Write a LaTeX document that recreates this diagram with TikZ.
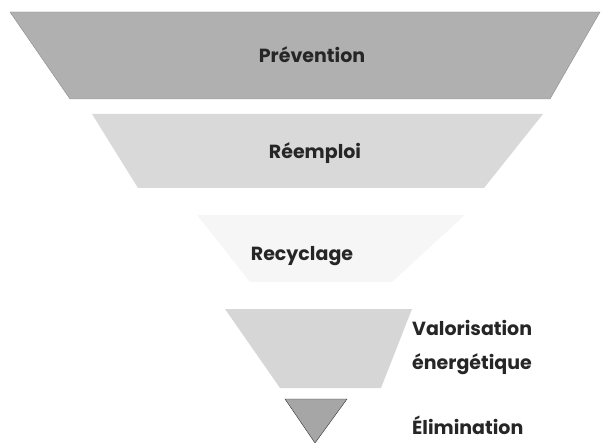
\documentclass[tikz,border=0pt]{standalone}
\usepackage{fontspec}
\setmainfont{Poppins}
\begin{document}
\begin{tikzpicture}[x=1pt,y=-1pt,
    band/.style={fill=#1, draw=black!45, line width=0.4pt},
    level/.style={font=\bfseries\fontsize{19}{34}\selectfont, text=black!85, inner sep=1pt},
    side/.style={level, anchor=west, align=left}]
    \useasboundingbox (0,0) rectangle (601,443);
    % corners of the bands
    \coordinate (P1) at (10,12);   \coordinate (P2) at (600,12);
    \coordinate (P3) at (550,99);  \coordinate (P4) at (70,99);
    \coordinate (R1) at (92,114);  \coordinate (R2) at (543,114);
    \coordinate (R3) at (484,188); \coordinate (R4) at (138,188);
    \coordinate (C1) at (197,215); \coordinate (C2) at (465,215);
    \coordinate (C3) at (392,282); \coordinate (C4) at (250,282);
    \coordinate (V1) at (225,309); \coordinate (V2) at (412,309);
    \coordinate (V3) at (381,388); \coordinate (V4) at (280,388);
    \coordinate (E1) at (285,399); \coordinate (E2) at (347,399);
    \coordinate (E3) at (315,443);
    \draw[band=gray!62] (P1) -- (P2) -- (P3) -- (P4) -- cycle;
    \fill[gray!30] (R1) -- (R2) -- (R3) -- (R4) -- cycle;
    \fill[gray!7] (C1) -- (C2) -- (C3) -- (C4) -- cycle;
    \fill[gray!32] (V1) -- (V2) -- (V3) -- (V4) -- cycle;
    \draw[fill=gray!70, draw=black!80] (E1) -- (E2) -- (E3) -- cycle;
    % labels
    \node[level] (prev) at (312,55) {Prévention};
    \node[level] (reem) at (315,153) {Réemploi};
    \node[level] (recy) at (302,256) {Recyclage};
    \node[side] (valo) at (411,348) {Valorisation\\énergétique};
    \node[side] (elim) at (411,425) {Élimination};
\end{tikzpicture}
\end{document}
